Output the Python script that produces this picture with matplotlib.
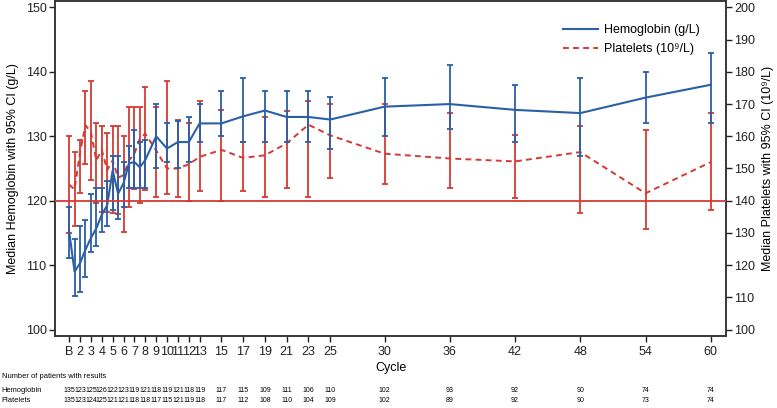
import matplotlib
matplotlib.use("Agg")
import matplotlib.pyplot as plt
import matplotlib.transforms as mtransforms
from matplotlib.lines import Line2D

plt.rcParams['font.family'] = ['Liberation Sans', 'DejaVu Sans']

# measurement visits (half steps = day 15 of early cycles), B = 1
cycles = [1, 1.5, 2, 2.5, 3, 3.5, 4, 4.5, 5, 5.5, 6, 6.5, 7, 7.5, 8,
          9, 10, 11, 12, 13, 15, 17, 19, 21, 23, 25, 30, 36, 42, 48, 54, 60]

# hemoglobin (g/L), median and 95% CI
hb_med = [115.2, 109, 110.3, 112.4, 114.2, 115.7, 117.8, 119.3, 124.7, 121.1, 122.7, 125.8, 126, 125.2, 126.3,
          130, 128.1, 129.1, 129.1, 132, 132, 133.1, 134, 133, 133, 132.6, 134.6, 135, 134.1, 133.6, 136, 138]
hb_lo = [111.1, 105.2, 105.9, 108.1, 112.1, 113, 115.2, 116.1, 118.5, 117.1, 119.1, 122, 122, 122, 122,
         125, 126, 125, 126, 129.1, 130, 129.1, 129.1, 129.1, 129.1, 128.1, 130, 131.1, 129.1, 127, 132, 132]
hb_hi = [119, 114, 116, 117, 121.1, 122, 122, 123, 127, 127, 126, 128.5, 131, 129.1, 129.5,
         135, 132, 132.4, 133, 135, 137, 139, 137, 137, 137, 136.1, 139, 141.1, 138, 139, 140, 143]

# platelets (10^9/L), median and 95% CI
pl_med = [145, 143.5, 155, 163.4, 161.3, 152.5, 155.8, 149.5, 152.5, 147.2, 147.9, 152.5, 154.6, 159.3, 160.8,
          155.6, 150, 150, 151.3, 153.6, 155.8, 153.3, 154.1, 157.8, 163.6, 160.3, 154.6, 153.1, 152.2, 155.1, 142.3, 152]
pl_lo = [130.1, 132.1, 142.3, 151.5, 146.4, 139.2, 136.6, 136.6, 136.1, 136, 130.2, 138.1, 143.5, 139.2, 143.3,
         141, 142, 141, 140, 143, 140, 143, 141, 144, 141, 146.9, 145.1, 144, 140.9, 136.1, 131.1, 137.1]
pl_hi = [160, 155, 159, 174, 177.1, 164.1, 163.1, 161, 163.1, 163.1, 160, 169, 169, 169, 175.2,
         169.2, 177.1, 165.1, 164, 171.1, 168.2, 158.2, 166, 168, 171, 170, 170, 167.2, 160.3, 163.1, 162, 167.2]

# axis ticks / patient counts table
tick_cycles = [1, 2, 3, 4, 5, 6, 7, 8, 9, 10, 11, 12, 13, 15, 17, 19, 21, 23, 25, 30, 36, 42, 48, 54, 60]
tick_labels = ['B', '2', '3', '4', '5', '6', '7', '8', '9', '10', '11', '12', '13',
               '15', '17', '19', '21', '23', '25', '30', '36', '42', '48', '54', '60']
hb_n = [135, 123, 125, 126, 122, 123, 119, 121, 118, 119, 121, 118, 119,
        117, 115, 109, 111, 106, 110, 102, 93, 92, 90, 74, 74]
pl_n = [135, 123, 124, 125, 121, 121, 118, 118, 117, 115, 121, 119, 118,
        117, 112, 108, 110, 104, 109, 102, 89, 92, 90, 73, 74]

blue = '#2b5fa8'
red = '#d43a33'

fig = plt.figure(figsize=(7.77, 4.08), dpi=100)
ax = fig.add_axes([55 / 777, 1 - 336 / 408, 671 / 777, 335 / 408])
ax2 = ax.twinx()

# platelets on the right axis
pl_err = [[m - l for m, l in zip(pl_med, pl_lo)], [h - m for m, h in zip(pl_med, pl_hi)]]
ax2.errorbar(cycles, pl_med, yerr=pl_err, fmt='none', ecolor=red, elinewidth=1.3,
             capsize=2.3, capthick=1.3, zorder=2)
ax2.plot(cycles, pl_med, color=red, lw=1.4, ls=(0, (3, 2.2)), zorder=3)
ax2.axhline(140, color=red, lw=1.3, zorder=5)

# hemoglobin drawn on the twin (left 100..150 <-> right 100..200) so it sits above red
hb_err = [[m - l for m, l in zip(hb_med, hb_lo)], [h - m for m, h in zip(hb_med, hb_hi)]]
hb_as_pl = [2 * v - 100 for v in hb_med]
hb_err2 = [[2 * e for e in hb_err[0]], [2 * e for e in hb_err[1]]]
ax2.errorbar(cycles, hb_as_pl, yerr=hb_err2, fmt='none', ecolor=blue, elinewidth=1.3,
             capsize=2.3, capthick=1.3, zorder=4)
ax2.plot(cycles, hb_as_pl, color=blue, lw=1.5, zorder=4)

ax.set_ylim(99, 151)
ax2.set_ylim(98, 202)
ax.set_xlim(-0.3, 61.4)
ax.set_yticks(range(100, 151, 10))
ax2.set_yticks(range(100, 201, 10))
ax.set_xticks(tick_cycles)
ax.set_xticklabels(tick_labels)

for a in (ax, ax2):
    a.tick_params(direction='out', length=4, width=1, labelsize=9, colors='#222222', pad=2)
    for s in a.spines.values():
        s.set_linewidth(1.1)
        s.set_color('#333333')
ax.tick_params(axis='x', pad=3)

ax.set_ylabel('Median Hemoglobin with 95% CI (g/L)', fontsize=9, labelpad=5)
ax2.set_ylabel('Median Platelets with 95% CI (10\u2079/L)', fontsize=9, labelpad=5)
ax.set_xlabel('Cycle', fontsize=9, labelpad=3)

handles = [Line2D([], [], color=blue, lw=1.5),
           Line2D([], [], color=red, lw=1.4, ls=(0, (3, 2.2)))]
fig.legend(handles, ['Hemoglobin (g/L)', 'Platelets (10\u2079/L)'], loc='upper left',
           bbox_to_anchor=(563 / 777, 1 - 24 / 408), frameon=False, fontsize=9,
           borderpad=0, borderaxespad=0, handlelength=2.8, handletextpad=0.5, labelspacing=0.55)

# patient counts below the axis
trans = mtransforms.blended_transform_factory(ax.transData, fig.transFigure)
fig.text(0.002, 1 - 377 / 408, 'Number of patients with results', fontsize=5.4, va='center')
fig.text(0.002, 1 - 391 / 408, 'Hemoglobin', fontsize=5.4, va='center')
fig.text(0.002, 1 - 400 / 408, 'Platelets', fontsize=5.4, va='center')
for c, n1, n2 in zip(tick_cycles, hb_n, pl_n):
    ax.text(c, 1 - 391 / 408, str(n1), transform=trans, fontsize=5.0, ha='center', va='center')
    ax.text(c, 1 - 400 / 408, str(n2), transform=trans, fontsize=5.0, ha='center', va='center')

fig.savefig('out.png', dpi=100)
